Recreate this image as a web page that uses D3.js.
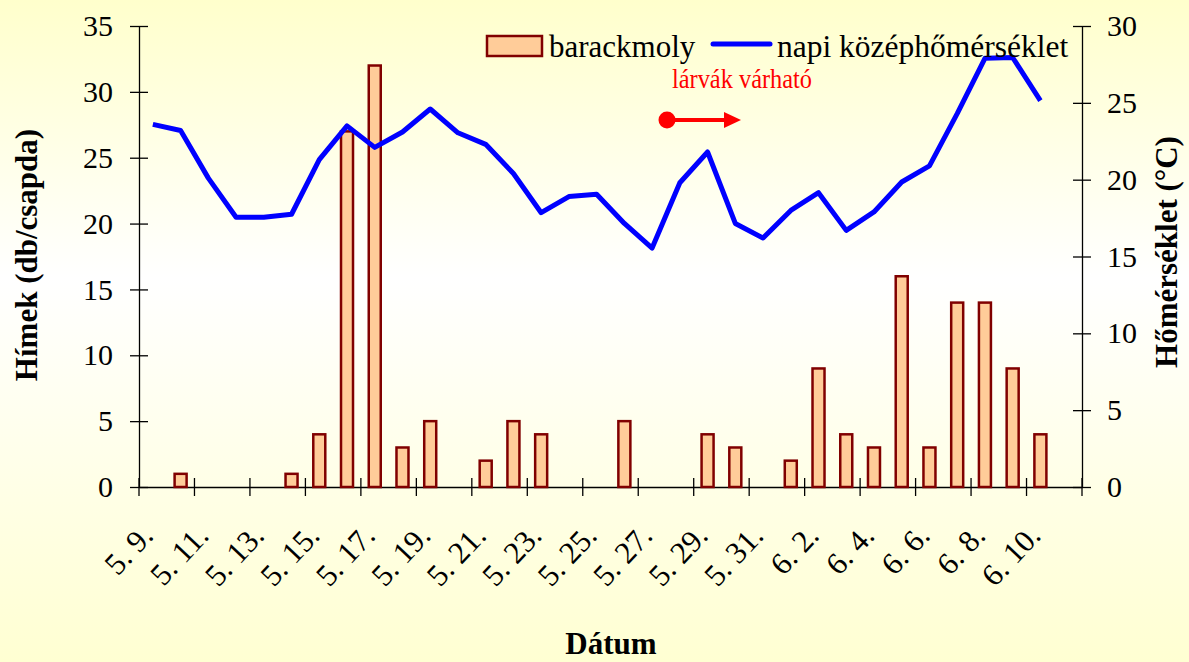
<!DOCTYPE html>
<html>
<head>
<meta charset="utf-8">
<script src="https://cdn.jsdelivr.net/npm/d3@7"></script>
<style>
  body { margin: 0; }
  svg { display: block; font-family: "Liberation Serif", "Times New Roman", serif; }
</style>
</head>
<body>
<svg width="1189" height="662"></svg>
<script>
const w = 1189;
const h = 662;

// categories (dates), every 2nd one gets a label
const dates = ["5. 9.", "5. 10.", "5. 11.", "5. 12.", "5. 13.", "5. 14.", "5. 15.", "5. 16.", "5. 17.",
               "5. 18.", "5. 19.", "5. 20.", "5. 21.", "5. 22.", "5. 23.", "5. 24.", "5. 25.", "5. 26.",
               "5. 27.", "5. 28.", "5. 29.", "5. 30.", "5. 31.", "6. 1.", "6. 2.", "6. 3.", "6. 4.",
               "6. 5.", "6. 6.", "6. 7.", "6. 8.", "6. 9.", "6. 10.", "6. 11."];
const dateLabels = ["5. 9.", "5. 11.", "5. 13.", "5. 15.", "5. 17.", "5. 19.", "5. 21.", "5. 23.", "5. 25.",
                    "5. 27.", "5. 29.", "5. 31.", "6. 2.", "6. 4.", "6. 6.", "6. 8.", "6. 10."];

// barackmoly himek (db/csapda)
const moths = [0, 1, 0, 0, 0, 1, 4, 27, 32, 3, 5, 0, 2, 5, 4, 0, 0, 5, 0, 0, 4, 3, 0, 2, 9, 4, 3,
               16, 3, 14, 14, 9, 4, null];

// napi középhőmérséklet (°C)
const temps = [23.6, 23.2, 20.1, 17.55, 17.55, 17.75, 21.3, 23.5, 22.1, 23.1, 24.6, 23.05, 22.3, 20.4,
               17.85, 18.9, 19.05, 17.15, 15.55, 19.8, 21.8, 17.15, 16.2, 18.0, 19.15, 16.7, 17.9,
               19.85, 20.9, 24.3, 27.9, 27.95, 25.15, null];

const leftTicks = [0, 5, 10, 15, 20, 25, 30, 35];
const rightTicks = [0, 5, 10, 15, 20, 25, 30];

let svg = d3.select("svg");

// background gradient
let defs = svg.append("defs");
let grad = defs.append("linearGradient")
               .attr("id", "bg")
               .attr("x1", 0).attr("y1", 0)
               .attr("x2", 0).attr("y2", 1);
grad.append("stop").attr("offset", "0%").attr("stop-color", "#FFFFCC");
grad.append("stop").attr("offset", "42%").attr("stop-color", "#FFFFFF");
grad.append("stop").attr("offset", "100%").attr("stop-color", "#FFFFD2");

svg.append("rect")
   .attr("width", w)
   .attr("height", h)
   .attr("fill", "url(#bg)");

let xScale = d3.scaleBand()
               .domain(dates)
               .range([139, 1082])
               .padding(0);

let yLeft = d3.scaleLinear()
              .domain([0, 35])
              .range([487, 26]);

let yRight = d3.scaleLinear()
               .domain([0, 30])
               .range([487, 26]);

const tickFont = "30px";

// left axis
let leftAxis = svg.append("g")
                  .attr("transform", "translate(139, 0)")
                  .call(d3.axisLeft(yLeft).tickValues(leftTicks).tickSizeOuter(0).tickSizeInner(9).tickPadding(17));
leftAxis.selectAll(".tick line").attr("x1", -9).attr("x2", 9);
leftAxis.selectAll("text").style("font-size", tickFont).style("font-family", "Liberation Serif").attr("fill", "#000");
leftAxis.selectAll("path, line").attr("stroke", "#000").attr("stroke-width", 1.3);

// right axis
let rightAxis = svg.append("g")
                   .attr("transform", "translate(1082, 0)")
                   .call(d3.axisRight(yRight).tickValues(rightTicks).tickSizeOuter(0).tickSizeInner(9).tickPadding(16));
rightAxis.selectAll(".tick line").attr("x1", -9).attr("x2", 9);
rightAxis.selectAll("text").style("font-size", tickFont).style("font-family", "Liberation Serif").attr("fill", "#000");
rightAxis.selectAll("path, line").attr("stroke", "#000").attr("stroke-width", 1.3);

// bottom axis: line + tick marks between every second category
let bottom = svg.append("g")
                .attr("transform", "translate(0, 487)")
                .call(d3.axisBottom(xScale).tickValues([]).tickSizeOuter(0));
bottom.select("path").attr("stroke", "#000").attr("stroke-width", 1.3);

let tickPos = dates.filter((d, i) => i % 2 === 0).map(d => xScale(d)).concat([xScale.range()[1]]);
bottom.selectAll("line.xt")
      .data(tickPos)
      .enter()
      .append("line")
      .attr("class", "xt")
      .attr("x1", d => d).attr("x2", d => d)
      .attr("y1", -9).attr("y2", 9)
      .attr("stroke", "#000")
      .attr("stroke-width", 1.3);

svg.append("g")
   .selectAll("text")
   .data(dateLabels)
   .enter()
   .append("text")
   .attr("transform", d => `translate(${xScale(d) + xScale.bandwidth() / 2 + 2}, 537) rotate(-47)`)
   .attr("text-anchor", "end")
   .style("font-size", "31px")
   .text(d => d);

// bars
let barW = 12;
svg.append("g")
   .selectAll("rect")
   .data(dates.map((d, i) => [d, moths[i]]).filter(d => d[1]))
   .enter()
   .append("rect")
   .attr("x", d => xScale(d[0]) + xScale.bandwidth() / 2 - barW / 2)
   .attr("y", d => yLeft(d[1]))
   .attr("width", barW)
   .attr("height", d => yLeft(0) - yLeft(d[1]))
   .attr("fill", "#FFCC99")
   .attr("stroke", "#800000")
   .attr("stroke-width", 2.5);

// temperature line
let line = d3.line()
             .defined(d => d[1] !== null)
             .x(d => xScale(d[0]) + xScale.bandwidth() / 2)
             .y(d => yRight(d[1]));

svg.append("path")
   .datum(dates.map((d, i) => [d, temps[i]]))
   .attr("d", line)
   .attr("fill", "none")
   .attr("stroke", "#0000FF")
   .attr("stroke-width", 5)
   .attr("stroke-linejoin", "round");

// axis titles
svg.append("text")
   .attr("transform", "translate(37, 255) rotate(-90)")
   .attr("text-anchor", "middle")
   .style("font-size", "31px")
   .style("font-weight", "bold")
   .text("Hímek (db/csapda)");

svg.append("text")
   .attr("transform", "translate(1177, 252) rotate(-90)")
   .attr("text-anchor", "middle")
   .style("font-size", "31px")
   .style("font-weight", "bold")
   .text("Hőmérséklet (°C)");

svg.append("text")
   .attr("x", 611)
   .attr("y", 654)
   .attr("text-anchor", "middle")
   .style("font-size", "31px")
   .style("font-weight", "bold")
   .text("Dátum");

// legend
let legend = svg.append("g");
legend.append("rect")
      .attr("x", 487).attr("y", 36)
      .attr("width", 55).attr("height", 20)
      .attr("fill", "#FFCC99")
      .attr("stroke", "#800000")
      .attr("stroke-width", 2.5);
legend.append("text")
      .attr("x", 549).attr("y", 57)
      .style("font-size", "31px")
      .text("barackmoly");
legend.append("line")
      .attr("x1", 713).attr("x2", 770)
      .attr("y1", 44).attr("y2", 44)
      .attr("stroke", "#0000FF")
      .attr("stroke-width", 5)
      .attr("stroke-linecap", "round");
legend.append("text")
      .attr("x", 777).attr("y", 57)
      .style("font-size", "31.5px")
      .text("napi középhőmérséklet");

// annotation
svg.append("text")
   .attr("x", 672).attr("y", 88)
   .attr("textLength", 140)
   .attr("lengthAdjust", "spacingAndGlyphs")
   .style("font-size", "27px")
   .attr("fill", "#FF0000")
   .text("lárvák várható");

svg.append("circle")
   .attr("cx", 667).attr("cy", 120)
   .attr("r", 8.5)
   .attr("fill", "#FF0000");
svg.append("line")
   .attr("x1", 667).attr("x2", 727)
   .attr("y1", 120).attr("y2", 120)
   .attr("stroke", "#FF0000")
   .attr("stroke-width", 4);
svg.append("path")
   .attr("d", "M724,112 L741,120 L724,128 Z")
   .attr("fill", "#FF0000");
</script>
</body>
</html>
